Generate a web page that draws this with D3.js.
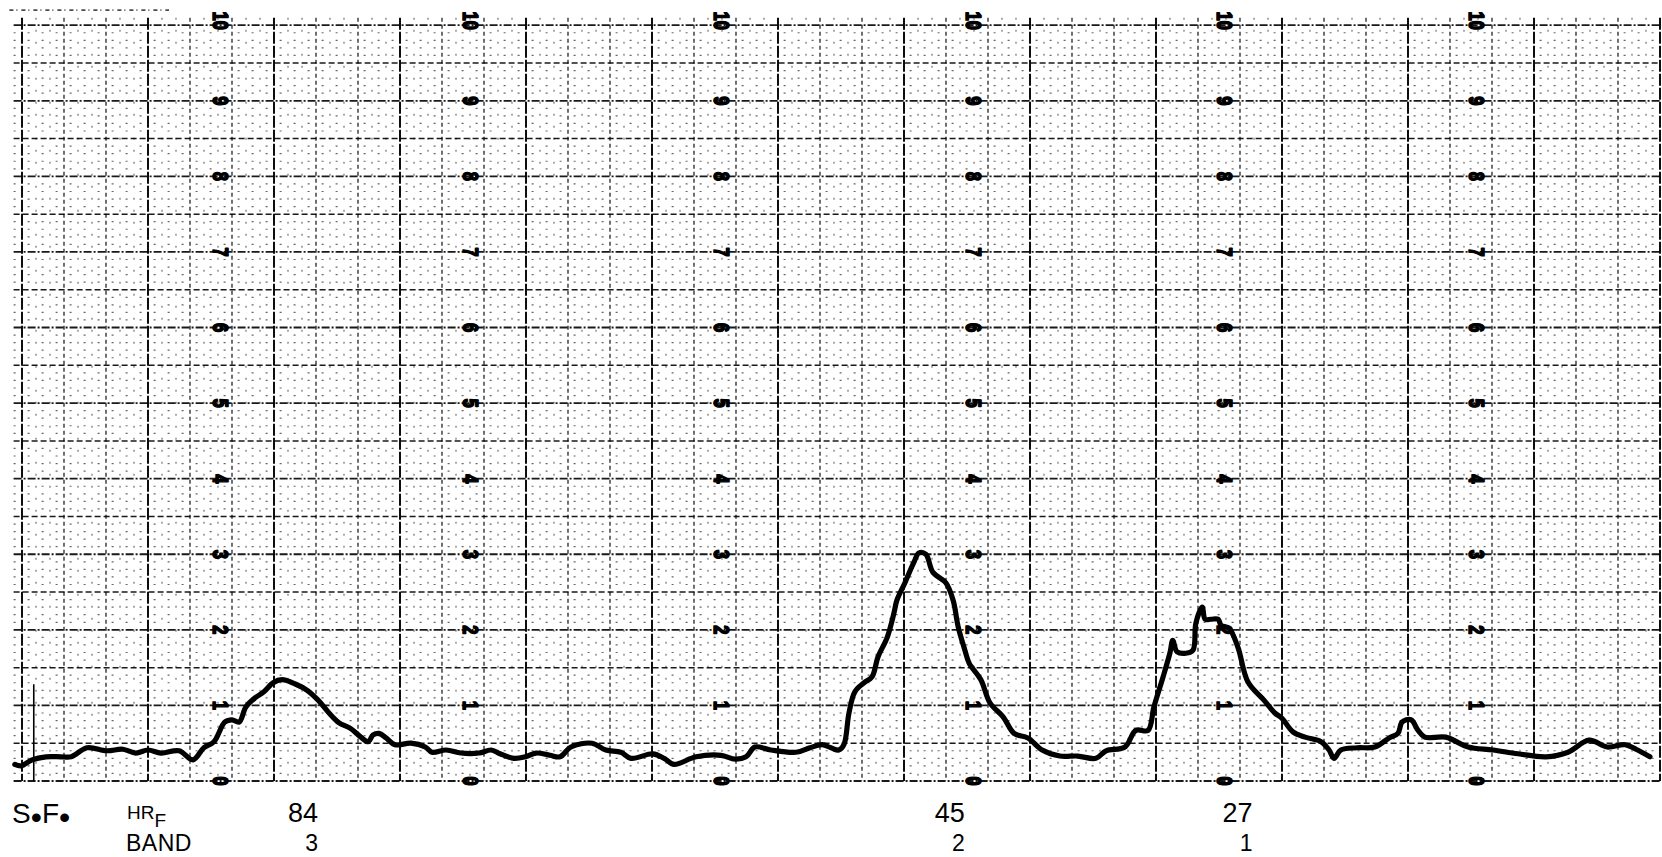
<!DOCTYPE html>
<html>
<head>
<meta charset="utf-8">
<script src="https://cdnjs.cloudflare.com/ajax/libs/d3/7.8.5/d3.min.js"></script>
<style>
    html, body { margin: 0; padding: 0; background: #fff; }
    svg { display: block; }
</style>
</head>
<body>
<div id="registro"></div>
<script>

//posição no papel (divisões menores) e leitura do registrador (0 - 10)
var traceX = [-0.17, -0.02, 0.24, 0.57, 0.93, 1.17, 1.55, 2.02, 2.40, 2.71, 3.00, 3.31, 3.74, 4.07, 4.33, 4.57,
    4.83, 5.00, 5.17, 5.33, 5.55, 5.76, 5.98, 6.19, 6.52, 6.79, 7.05, 7.31, 7.55, 7.81, 8.07, 8.24, 8.36, 8.50,
    8.67, 8.88, 9.26, 9.60, 9.76, 10.10, 10.45, 10.88, 11.17, 11.38, 11.71, 11.98, 12.24, 12.57,
    12.81, 13.07, 13.57, 13.90, 14.26, 14.50, 15.02, 15.29, 15.52, 16.05, 16.64, 16.98, 17.24, 17.45, 17.83,
    18.43, 18.76, 19.05, 19.26, 19.45, 19.57, 19.69, 19.83, 20.05, 20.24, 20.38, 20.60, 20.76, 20.83, 21.02,
    21.24, 21.36, 21.52, 21.69, 22.00, 22.17, 22.29, 22.45, 22.55, 22.83, 23.05, 23.36, 23.62, 23.95, 24.29,
    24.71, 25.14, 25.57, 25.81,
    26.26, 26.52, 26.81, 26.95, 27.17, 27.33, 27.40, 27.50, 27.71, 27.88, 27.95, 28.10, 28.17, 28.31, 28.48,
    28.55, 28.74, 28.95, 29.19, 29.57, 29.83, 30.00, 30.26, 30.55, 30.93, 31.12, 31.24, 31.40, 31.79, 32.21,
    32.55, 32.76, 32.86, 33.07, 33.24, 33.40, 33.90, 34.43, 35.02, 35.62, 36.29, 36.81, 37.31, 37.74, 38.17,
    38.43, 38.76];
var traceY = [0.22, 0.20, 0.28, 0.32, 0.32, 0.32, 0.44, 0.40, 0.42, 0.37, 0.41, 0.37, 0.40, 0.28, 0.44, 0.52,
    0.78, 0.81, 0.78, 0.98, 1.10, 1.18, 1.30, 1.34, 1.28, 1.20, 1.07, 0.90, 0.77, 0.70, 0.58, 0.52, 0.61, 0.63,
    0.57, 0.48, 0.50, 0.45, 0.38, 0.41, 0.37, 0.37, 0.41, 0.36, 0.30, 0.32, 0.37, 0.34,
    0.32, 0.45, 0.50, 0.41, 0.38, 0.30, 0.36, 0.30, 0.22, 0.32, 0.34, 0.29, 0.32, 0.45, 0.41,
    0.38, 0.44, 0.48, 0.44, 0.41, 0.48, 0.90, 1.18, 1.30, 1.38, 1.64, 1.90, 2.22, 2.39, 2.62,
    2.90, 3.02, 3.00, 2.76, 2.62, 2.39, 2.04, 1.73, 1.56, 1.34, 1.03, 0.85, 0.63, 0.57, 0.41,
    0.33, 0.33, 0.30, 0.40,
    0.45, 0.67, 0.67, 0.98, 1.38, 1.69, 1.86, 1.71, 1.69, 1.73, 2.09, 2.30, 2.14, 2.14, 2.14,
    2.06, 2.02, 1.77, 1.31, 1.07, 0.90, 0.83, 0.65, 0.58, 0.52, 0.41, 0.30, 0.41, 0.44, 0.45,
    0.57, 0.63, 0.78, 0.81, 0.67, 0.58, 0.58, 0.45, 0.41, 0.36, 0.32, 0.38, 0.54, 0.45, 0.48,
    0.42, 0.32];

//escala impressa no papel
var scaleTicks = [0, 1, 2, 3, 4, 5, 6, 7, 8, 9, 10];
var scaleCols = [4.74, 10.69, 16.67, 22.67, 28.64, 34.64];

//anotações embaixo dos picos (posição = borda direita do número)
var peakPos = [7.05, 22.45, 29.30];
var hrfValues = ["84", "45", "27"];
var bandValues = ["3", "2", "1"];

//marca de início do registro [posição, altura]
var startMark = [0.28, 1.28];

(function(d3){

    var W = 1662, H = 857;
    var nDiv = 39;

    var x = d3.scaleLinear().domain([0, nDiv]).range([22, 1660]);
    var y = d3.scaleLinear().domain([0, 10]).range([781, 25.2]);

    var svg = d3.select("#registro")
            .append("svg")
            .attr("width", W)
            .attr("height", H)
            .style("background", "#fff");

    var grade = svg.append("g").attr("class", "grade");

    //pontilhado fino do papel
    var subH = d3.range(0, 101).filter(function(i){ return i % 5 !== 0; })
            .map(function(i){ return i / 10; });
    grade.selectAll("line.subh")
            .data(subH)
            .enter().append("line")
            .attr("class", "subh")
            .attr("x1", x(-0.2)).attr("x2", x(nDiv))
            .attr("y1", function(d){ return y(d); })
            .attr("y2", function(d){ return y(d); })
            .attr("stroke", "#000")
            .attr("stroke-opacity", 0.6)
            .attr("stroke-width", 1.2)
            .attr("stroke-dasharray", "2,12");

    var subV = [];
    d3.range(0, nDiv).forEach(function(i){ subV.push(i + 1/3, i + 2/3); });
    grade.selectAll("line.subv")
            .data(subV)
            .enter().append("line")
            .attr("class", "subv")
            .attr("x1", function(d){ return x(d); })
            .attr("x2", function(d){ return x(d); })
            .attr("y1", y(10.1)).attr("y2", y(0))
            .attr("stroke", "#000")
            .attr("stroke-opacity", 0.55)
            .attr("stroke-width", 1.2)
            .attr("stroke-dasharray", "2,10");

    //linha pontilhada do cabeçalho
    grade.append("line")
            .attr("x1", x(-0.3)).attr("x2", x(3.5))
            .attr("y1", y(10.2)).attr("y2", y(10.2))
            .attr("stroke", "#000")
            .attr("stroke-opacity", 0.7)
            .attr("stroke-width", 1.6)
            .attr("stroke-dasharray", "4,3,1,4");

    //linhas horizontais (meia unidade)
    grade.selectAll("line.h")
            .data(d3.range(0, 21).map(function(i){ return i / 2; }))
            .enter().append("line")
            .attr("class", "h")
            .attr("x1", x(-0.2)).attr("x2", x(nDiv))
            .attr("y1", function(d){ return y(d); })
            .attr("y2", function(d){ return y(d); })
            .attr("stroke", "#000")
            .attr("stroke-opacity", 0.9)
            .attr("stroke-width", function(d){ return d % 1 === 0 ? 1.8 : 1.5; })
            .attr("stroke-dasharray", function(d){ return d % 1 === 0 ? "8,2,2,2" : "6,3"; });

    //linhas verticais
    grade.selectAll("line.v")
            .data(d3.range(0, nDiv + 1))
            .enter().append("line")
            .attr("class", "v")
            .attr("x1", function(d){ return x(d); })
            .attr("x2", function(d){ return x(d); })
            .attr("y1", y(10.1)).attr("y2", y(0))
            .attr("stroke", "#000")
            .attr("stroke-opacity", function(d){ return d % 3 === 0 ? 0.95 : 0.8; })
            .attr("stroke-width", function(d){ return d % 3 === 0 ? 2 : 1.4; })
            .attr("stroke-dasharray", function(d){ return d % 3 === 0 ? "12,2" : "4,3"; });

    //números da escala, girados como no papel
    var rotulos = [];
    scaleCols.forEach(function(c){
        scaleTicks.forEach(function(t){ rotulos.push({c: c, t: t}); });
    });
    svg.append("g").selectAll("text")
            .data(rotulos)
            .enter().append("text")
            .attr("transform", function(d){
                return "translate(" + x(d.c) + "," + y(d.t) + ") rotate(90) scale(0.75,1)";
            })
            .attr("text-anchor", "end")
            .attr("x", "0.28em")
            .attr("dy", "0.36em")
            .attr("font-family", "'Liberation Sans', Arial, sans-serif")
            .attr("font-weight", "bold")
            .attr("font-size", 22)
            .attr("fill", "#000")
            .attr("stroke", "#000")
            .attr("stroke-width", 1.6)
            .attr("stroke-linejoin", "round")
            .text(function(d){ return d.t; });

    //marca de início
    svg.append("line")
            .attr("x1", x(startMark[0])).attr("x2", x(startMark[0]))
            .attr("y1", y(startMark[1])).attr("y2", y(0))
            .attr("stroke", "#000")
            .attr("stroke-width", 1.6);

    //traçado do registrador
    var pontos = traceX.map(function(v, i){ return [v, traceY[i]]; });
    var linha = d3.line()
            .x(function(d){ return x(d[0]); })
            .y(function(d){ return y(d[1]); })
            .curve(d3.curveCatmullRom.alpha(0.5));

    svg.append("path")
            .datum(pontos)
            .attr("d", linha)
            .attr("fill", "none")
            .attr("stroke", "#000")
            .attr("stroke-width", 5.2)
            .attr("stroke-linejoin", "round")
            .attr("stroke-linecap", "round");

    //legenda embaixo
    var fonte = "'Liberation Sans', Arial, sans-serif";
    var legenda = svg.append("g").attr("fill", "#000").attr("font-family", fonte);

    var sf = legenda.append("text")
            .attr("x", 12).attr("y", 823)
            .attr("font-size", 28);
    sf.append("tspan").text("S");
    sf.append("tspan").attr("font-size", 32).attr("dy", 5).text("\u2022");
    sf.append("tspan").attr("dy", -5).text("F");
    sf.append("tspan").attr("font-size", 32).attr("dy", 5).text("\u2022");

    var hr = legenda.append("text")
            .attr("x", 127).attr("y", 819)
            .attr("font-size", 19);
    hr.append("tspan").text("HR");
    hr.append("tspan").attr("dy", 8).text("F");

    legenda.append("text")
            .attr("x", 126).attr("y", 851)
            .attr("font-size", 23)
            .attr("letter-spacing", 0.5)
            .text("BAND");

    legenda.selectAll("text.hrf")
            .data(hrfValues)
            .enter().append("text")
            .attr("class", "hrf")
            .attr("x", function(d, i){ return x(peakPos[i]); })
            .attr("y", 822)
            .attr("text-anchor", "end")
            .attr("font-size", 27)
            .text(function(d){ return d; });

    legenda.selectAll("text.band")
            .data(bandValues)
            .enter().append("text")
            .attr("class", "band")
            .attr("x", function(d, i){ return x(peakPos[i]); })
            .attr("y", 851)
            .attr("text-anchor", "end")
            .attr("font-size", 23)
            .text(function(d){ return d; });

})(d3);
</script>
</body>
</html>
